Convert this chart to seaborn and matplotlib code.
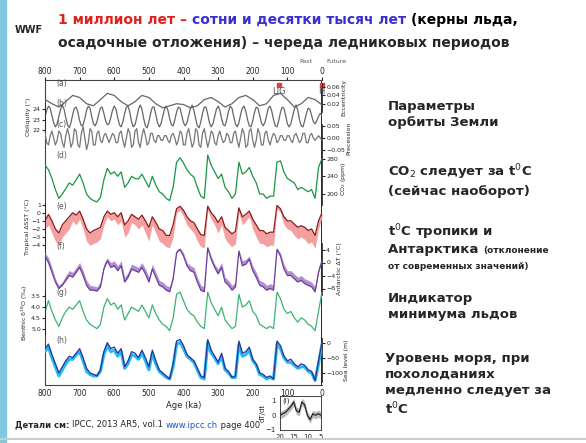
import numpy as np
import matplotlib
matplotlib.use("Agg")
import matplotlib.pyplot as plt
import seaborn as sns

sns.set_style("white")
plt.rcParams['font.family'] = ['DejaVu Sans']

W, H = 586, 443

# ---- data (ages from 800 ka to 0 ka) ----
ecc = [0.030, 0.020, 0.012, 0.025, 0.040, 0.035, 0.020, 0.015, 0.030, 0.045, 0.040,
       0.025, 0.015, 0.025, 0.040, 0.035, 0.020, 0.010, 0.015, 0.020, 0.018, 0.010,
       0.015, 0.030, 0.035, 0.025, 0.012, 0.020, 0.035, 0.040, 0.030, 0.015, 0.020,
       0.040, 0.045, 0.030, 0.012, 0.020, 0.035, 0.030, 0.017]
obliq = [23.3, 23.9, 24.3, 24.1, 23.4, 22.7, 22.3, 22.6, 23.3, 24.0, 24.4, 24.0, 23.2,
         22.5, 22.2, 22.7, 23.5, 24.1, 24.2, 23.7, 22.9, 22.4, 22.5, 23.1, 23.9, 24.3,
         24.1, 23.3, 22.6, 22.4, 22.8, 23.5, 24.1, 24.2, 23.6, 22.9, 22.5, 22.6, 23.2,
         23.9, 24.3, 24.0, 23.2, 22.5, 22.3, 22.8, 23.6, 24.2, 24.3, 23.7, 22.8, 22.3,
         22.5, 23.2, 24.0, 24.4, 24.0, 23.1, 22.4, 22.2, 22.8, 23.6, 24.2, 24.2, 23.5,
         22.7, 22.3, 22.6, 23.3, 24.0, 24.3, 23.9, 23.1, 22.5, 22.4, 23.0, 23.7, 24.2,
         24.1, 23.4, 22.7, 22.4, 22.7, 23.4, 24.1, 24.4, 23.9, 23.1, 22.4, 22.2, 22.8,
         23.6, 24.2, 24.2, 23.5, 22.7, 22.3, 22.6, 23.3, 24.0, 24.3, 23.9, 23.1, 22.5,
         22.4, 23.0, 23.8, 24.3, 24.1, 23.3, 22.6, 22.3, 22.7, 23.5, 24.1, 24.3, 23.8,
         23.0, 22.4, 22.3, 22.9, 23.7, 24.2, 24.1, 23.4, 22.7, 22.4, 22.7, 23.4, 24.1,
         24.3, 23.8, 23.0, 22.4, 22.3, 22.9, 23.7, 24.2, 24.1, 23.4, 22.6, 22.3, 22.6,
         23.3, 24.0, 24.4, 23.9, 23.0, 22.4, 22.3, 22.9, 23.6, 24.1, 24.0, 23.4, 22.8,
         22.6, 22.9, 23.3, 23.6, 23.4]
prec = [0.02, -0.02, -0.03, 0.01, 0.03, 0.00, -0.03, -0.01, 0.03, 0.02, -0.02, -0.04,
        0.01, 0.04, 0.01, -0.04, -0.02, 0.04, 0.03, -0.03, -0.04, 0.02, 0.05, 0.00,
        -0.05, -0.02, 0.04, 0.03, -0.03, -0.03, 0.02, 0.03, -0.01, -0.02, 0.01, 0.02,
        0.00, -0.02, 0.00, 0.02, 0.01, -0.02, -0.02, 0.02, 0.03, -0.01, -0.04, 0.00,
        0.04, 0.02, -0.04, -0.03, 0.03, 0.04, -0.02, -0.04, 0.01, 0.04, 0.01, -0.03,
        -0.02, 0.02, 0.02, -0.01, -0.02, 0.01, 0.01, -0.01, -0.01, 0.01, 0.01, -0.01,
        -0.02, 0.01, 0.02, 0.00, -0.03, -0.01, 0.03, 0.02, -0.03, -0.03, 0.02, 0.04,
        0.00, -0.04, -0.02, 0.04, 0.03, -0.03, -0.04, 0.02, 0.04, 0.00, -0.04, -0.01,
        0.03, 0.02, -0.02, -0.03, 0.01, 0.03, 0.00, -0.02, -0.01, 0.02, 0.01, -0.02,
        -0.02, 0.02, 0.03, -0.01, -0.04, 0.00, 0.04, 0.02, -0.04, -0.03, 0.03, 0.04,
        -0.01, -0.04, -0.01, 0.04, 0.02, -0.03, -0.03, 0.02, 0.03, -0.01, -0.03, 0.00,
        0.02, 0.01, -0.02, -0.01, 0.01, 0.01, -0.01, -0.01, 0.01, 0.01, -0.01, -0.02,
        0.01, 0.02, 0.00, -0.02, -0.01, 0.02, 0.02, -0.02, -0.02, 0.01, 0.02, 0.00,
        -0.01, 0.00, 0.01, 0.00, -0.01]
co2 = [265, 255, 235, 210, 190, 200, 212, 225, 220, 232, 245, 225, 200, 190, 185, 182,
       192, 232, 258, 245, 250, 240, 250, 215, 225, 240, 235, 234, 245, 230, 215, 240,
       220, 205, 200, 190, 185, 215, 272, 282, 270, 255, 245, 238, 215, 195, 190, 288,
       265, 250, 235, 245, 215, 205, 190, 200, 272, 245, 250, 260, 240, 225, 200, 200,
       190, 195, 195, 272, 275, 250, 235, 230, 225, 210, 215, 210, 205, 210, 190, 260, 280]
sst = [-1.0, -0.2, -1.0, -2.0, -2.5, -1.5, -1.0, -0.5, 0.0, -0.3, 0.2, -0.8, -2.0, -2.5,
       -2.2, -2.0, -1.8, -0.5, 0.2, -0.2, 0.0, -0.5, 0.0, -1.5, -1.0, -0.2, -0.5, -0.8,
       -0.3, -1.0, -1.8, -0.5, -1.2, -2.0, -2.2, -2.8, -2.8, -1.5, 0.5, 0.8, 0.3, -0.5,
       -1.0, -1.2, -2.0, -2.7, -2.8, 0.8, 0.0, -0.5, -1.2, -0.5, -1.8, -2.2, -2.6, -2.3,
       0.6, -0.5, -0.2, 0.2, -0.8, -1.5, -2.2, -2.2, -2.6, -2.4, -2.4, 0.9, 0.5, -0.5,
       -1.0, -1.0, -1.4, -1.8, -1.6, -1.8, -2.2, -2.0, -2.8, -1.0, 0.0]
sst_alt = [-2.0, -1.5, -2.5, -3.5, -4.0, -3.0, -2.5, -2.0, -1.0, -1.5, -0.8, -2.0, -3.5,
           -4.0, -3.8, -3.6, -3.2, -1.5, -0.5, -1.0, -0.8, -1.5, -1.0, -3.0, -2.5, -1.2,
           -1.5, -2.0, -1.5, -2.5, -3.5, -1.5, -2.5, -3.5, -3.8, -4.2, -4.3, -3.0, 0.0,
           0.3, -0.5, -1.5, -2.0, -2.5, -3.5, -4.2, -4.3, 0.3, -0.8, -1.5, -2.5, -1.5,
           -3.2, -3.8, -4.2, -3.8, 0.0, -1.5, -1.0, -0.5, -2.0, -3.0, -3.8, -3.8, -4.2,
           -4.0, -4.0, 0.5, 0.0, -1.5, -2.0, -2.2, -2.8, -3.2, -3.0, -3.3, -3.8, -3.6,
           -4.4, -2.0, -0.5]
ant = [2.0, 0.0, -3.0, -6.0, -8.0, -7.0, -5.5, -4.0, -4.5, -3.0, -1.5, -4.0, -7.0, -8.5,
       -8.5, -8.8, -7.5, -2.0, 0.5, -1.5, -1.0, -2.5, -1.0, -6.0, -4.5, -2.0, -2.5, -3.0,
       -1.5, -3.5, -6.0, -2.0, -4.5, -7.0, -7.5, -8.5, -9.0, -5.0, 3.0, 4.0, 2.0, -1.0,
       -2.5, -3.0, -6.0, -8.5, -9.0, 4.5, 1.0, -1.5, -3.5, -1.5, -6.0, -7.0, -8.5, -7.5,
       3.5, -1.0, -0.5, 1.0, -2.5, -4.5, -7.0, -7.5, -8.5, -8.0, -8.5, 4.0, 2.0, -2.0,
       -4.0, -4.0, -5.0, -6.0, -5.5, -6.5, -7.0, -7.5, -9.0, -3.0, 0.5]
ant_alt = [3.0, 1.5, -1.5, -5.0, -7.0, -6.0, -4.0, -2.5, -3.0, -1.5, 0.0, -2.5, -5.5, -7.0,
           -7.2, -7.5, -6.0, -0.5, 1.5, 0.0, 0.5, -1.0, 0.5, -4.5, -3.0, -0.5, -1.0, -1.5,
           0.0, -2.0, -4.5, -0.5, -3.0, -5.5, -6.0, -7.0, -7.5, -3.5, 4.0, 4.5, 3.0, 0.0,
           -1.0, -1.5, -4.5, -7.0, -7.5, 5.0, 2.0, -0.5, -2.0, 0.0, -4.5, -5.5, -7.0, -6.0,
           4.0, 0.5, 1.0, 2.0, -1.0, -3.0, -5.5, -6.0, -7.0, -6.5, -7.0, 4.5, 3.0, -0.5,
           -2.5, -2.5, -3.5, -4.5, -4.0, -5.0, -5.5, -6.0, -7.5, -1.5, 1.5]
d18o = [4.2, 3.7, 4.2, 4.6, 4.9, 4.5, 4.2, 4.0, 4.1, 3.9, 3.7, 4.2, 4.6, 4.8, 4.9, 5.0,
        4.8, 4.0, 3.6, 3.9, 3.8, 4.1, 3.9, 4.6, 4.3, 4.0, 4.1, 4.2, 3.9, 4.2, 4.5, 3.9,
        4.3, 4.6, 4.8, 4.9, 5.1, 4.5, 3.4, 3.3, 3.7, 4.1, 4.3, 4.4, 4.7, 4.9, 5.0, 3.3,
        3.8, 4.1, 4.4, 4.0, 4.6, 4.8, 5.0, 4.9, 3.4, 4.0, 3.9, 3.7, 4.2, 4.4, 4.8, 4.9,
        5.0, 4.9, 5.0, 3.3, 3.6, 4.1, 4.3, 4.2, 4.5, 4.7, 4.5, 4.6, 4.8, 4.9, 5.1, 4.2, 3.3]
sea = [-20, -5, -40, -70, -100, -80, -60, -45, -50, -35, -20, -50, -85, -100, -105,
       -110, -90, -30, 0, -20, -15, -35, -20, -80, -60, -30, -35, -50, -25, -50, -80,
       -25, -60, -90, -100, -110, -120, -70, 5, 10, -10, -40, -50, -60, -85, -110, -115,
       10, -25, -45, -65, -35, -85, -95, -115, -110, 5, -35, -30, -15, -55, -70, -100,
       -105, -115, -110, -120, 5, -10, -45, -60, -55, -70, -80, -70, -75, -90, -95,
       -125, -60, 0]
sea_alt = [-30, -15, -50, -80, -110, -90, -70, -55, -55, -40, -30, -60, -95, -105, -110,
           -110, -95, -40, -10, -30, -25, -45, -30, -85, -70, -40, -45, -55, -35, -60,
           -90, -35, -70, -95, -105, -115, -120, -80, -5, 0, -20, -45, -55, -65, -90,
           -115, -120, 0, -35, -50, -70, -45, -90, -100, -115, -115, -5, -45, -40, -25,
           -60, -75, -105, -110, -120, -115, -120, -5, -20, -50, -65, -65, -75, -85, -80,
           -80, -95, -100, -125, -70, -5]
inset_age = [20, 19, 18, 17, 16, 15, 14, 13, 12, 11, 10, 9, 8, 7, 6, 5]
inset_val = [0.0, 0.1, 0.2, 0.4, 0.6, 0.9, 0.3, 0.2, 0.9, 0.7, 0.0, -0.3, 0.1, 0.0, 0.1, 0.0]

age_ticks = [800, 700, 600, 500, 400, 300, 200, 100, 0]


def px(x0, y0, x1, y1):
    # pixel box (top-left origin) -> figure fraction rect
    return [x0 / W, 1 - y1 / H, (x1 - x0) / W, (y1 - y0) / H]


fig = plt.figure(figsize=(W / 100, H / 100), dpi=100)
fig.patch.set_facecolor('white')
renderer = fig.canvas.get_renderer()


def chain(parts, x, y, **kw):
    # write text pieces one after another on the same baseline
    for s, style in parts:
        t = fig.text(x / W, 1 - y / H, s, va='center', **kw, **style)
        x = t.get_window_extent(renderer).x1


# left accent bar and bottom rule
fig.patches.append(plt.Rectangle((0, 0), 6 / W, 1, transform=fig.transFigure,
                                 color='#7ec8e3', zorder=0))
fig.lines.append(plt.Line2D([0, 1], [1 - 439 / H] * 2, transform=fig.transFigure,
                            color='#cccccc', lw=1.5))

L, R, T, B = 45, 322, 80, 385
frame = fig.add_axes(px(L, T, R, B))
frame.set_xlim(800, 0)
frame.set_ylim(0, 1)
frame.set_yticks([])
frame.set_xticks(age_ticks)
frame.tick_params(axis='x', labelsize=5.5, top=True, labeltop=True, length=2, pad=1)
frame.set_xlabel('Age (ka)', fontsize=6, labelpad=2)
for s in frame.spines.values():
    s.set_color('#444444')
    s.set_linewidth(0.8)
frame.spines['right'].set_visible(False)
frame.axvline(0, color='black', lw=1.2)
frame.plot([125], [0.985], 's', color='#e8383d', ms=3.5, clip_on=False)
frame.plot([0], [0.985], 's', color='#e8383d', ms=3.5, clip_on=False)
frame.text(123, 0.955, 'LIG', fontsize=6, ha='center', color='#555')
frame.text(3, 0.955, 'H', fontsize=6, ha='center', color='#555')
fig.text(312 / W, 1 - 63 / H, 'Past', fontsize=4.5, ha='right', color='#555')
fig.text(326 / W, 1 - 63 / H, 'Future', fontsize=4.5, ha='left', color='#555')


def panel(box, xs, ys, color, lw=0.9, ylim=None, side=None, ticks=None, label=None,
          tag=None, invert=False):
    ax = fig.add_axes(px(*box))
    ax.patch.set_alpha(0)
    sns.lineplot(x=xs, y=ys, ax=ax, color=color, lw=lw)
    ax.set_xlim(800, 0)
    if ylim:
        ax.set_ylim(*ylim)
    if invert:
        ax.invert_yaxis()
    for s in ax.spines.values():
        s.set_visible(False)
    ax.set_xticks([])
    ax.set_xlabel('')
    if side:
        ax.spines[side].set_visible(True)
        ax.spines[side].set_linewidth(0.6)
        ax.yaxis.set_ticks_position(side)
        ax.yaxis.set_label_position(side)
        ax.set_yticks(ticks)
        ax.tick_params(axis='y', labelsize=4.5, length=2, pad=1)
        ax.set_ylabel(label, fontsize=4.5, labelpad=1)
        if side == 'right':
            ax.spines[side].set_position(('data', 0))
    else:
        ax.set_yticks([])
        ax.set_ylabel('')
    if tag:
        ax.text(0.04, 0.88, tag, transform=ax.transAxes, fontsize=5.5, color='#555')
    return ax


ages81 = np.linspace(800, 0, len(co2))
ax = panel((L, 83, R, 112), np.linspace(800, 0, len(ecc)), ecc, '#666', ylim=(0, 0.07),
           side='right', ticks=[0.02, 0.04, 0.06], label='Eccentricity', tag='(a)')
ax = panel((L, 103, R, 130), np.linspace(800, 0, len(obliq)), obliq, '#666',
           ylim=(22, 24.6), side='left', ticks=[22, 23, 24], label='Obliquity (°)', tag='(b)')
ax = panel((L, 124, R, 152), np.linspace(800, 0, len(prec)), prec, '#777',
           ylim=(-0.06, 0.06), side='right', ticks=[-0.05, 0, 0.05], label='Precession',
           tag='(c)')
ax = panel((L, 152, R, 205), ages81, co2, '#1a9641', ylim=(175, 295), side='right',
           ticks=[200, 240, 280], label='CO$_2$ (ppm)', tag='(d)')
ax = panel((L, 203, R, 250), ages81, sst, '#8b1a1a', ylim=(-4.6, 1.2), side='left',
           ticks=[-4, -3, -2, -1, 0, 1], label='Tropical ΔSST (°C)', tag='(e)')
ax.fill_between(ages81, sst, sst_alt, color='#f4a0a0', lw=0, zorder=0)
ax = panel((L, 243, R, 295), ages81, ant, '#6a3d9a', ylim=(-10, 6), side='right',
           ticks=[-8, -4, 0, 4], label='Antarctic ΔT (°C)', tag='(f)')
ax.fill_between(ages81, ant, ant_alt, color='#b48fd0', lw=0, zorder=0)
ax = panel((L, 290, R, 335), ages81, d18o, '#3cb371', ylim=(3.2, 5.3), side='left',
           ticks=[3.5, 4, 4.5, 5], label='Benthic δ$^{18}$O (‰)', tag='(g)', invert=True)
ax = panel((L, 338, R, 382), ages81, sea_alt, '#29b6f6', lw=2.2, ylim=(-130, 15),
           side='right', ticks=[-100, -50, 0], label='Sea level (m)', tag='(h)')
sns.lineplot(x=ages81, y=sea, ax=ax, color='#283593', lw=0.9)
ax.set_xlabel('')
ax.set_ylabel('Sea level (m)', fontsize=4.5, labelpad=1)

# inset (i)
ins = fig.add_axes(px(280, 396, 321, 430))
sns.lineplot(x=inset_age, y=inset_val, ax=ins, color='#222', lw=0.9)
ins.fill_between(inset_age, np.array(inset_val) - 0.25, np.array(inset_val) + 0.25,
                 color='#bbbbbb', lw=0)
ins.set_xlim(20, 5)
ins.set_ylim(-1, 1.3)
ins.set_xticks([20, 15, 10, 5])
ins.set_yticks([-1, 0, 1])
ins.tick_params(labelsize=5, length=2, pad=1)
ins.set_ylabel('dT/dt', fontsize=5, labelpad=0)
ins.text(0.05, 0.8, '(i)', transform=ins.transAxes, fontsize=5)
for s in ins.spines.values():
    s.set_linewidth(0.6)

# ---- slide texts ----
fig.text(15 / W, 1 - 30 / H, 'WWF', fontsize=7, weight='bold', va='center')
chain([('1 миллион лет – ', dict(color='#e0201c')),
       ('сотни и десятки тысяч лет ', dict(color='#3a2fd0')),
       ('(керны льда,', dict(color='black'))], 58, 20, fontsize=10, weight='bold')
fig.text(58 / W, 1 - 43 / H, 'осадочные отложения) – череда ледниковых периодов',
         fontsize=10, weight='bold', va='center')

kw = dict(fontsize=9.5, weight='bold', va='top', linespacing=1.3)
fig.text(388 / W, 1 - 100 / H, 'Параметры\nорбиты Земли', **kw)
fig.text(388 / W, 1 - 162 / H, 'CO$_2$ следует за t$^0$C\n(сейчас наоборот)', **kw)
fig.text(388 / W, 1 - 222 / H, 't$^0$C тропики и', **kw)
chain([('Антарктика ', dict(fontsize=9.5)), ('(отклонение', dict(fontsize=6.5))],
      388, 250, weight='bold')
fig.text(388 / W, 1 - 262 / H, 'от современных значений)', fontsize=6.5, weight='bold',
         va='top')
fig.text(388 / W, 1 - 292 / H, 'Индикатор\nминимума льдов', **kw)
fig.text(385 / W, 1 - 352 / H, 'Уровень моря, при\nпохолоданиях\nмедленно следует за\nt$^0$C',
         **kw)

chain([('Детали см: ', dict(weight='bold')), ('IPCC, 2013 AR5, vol.1 ', {}),
       ('www.ipcc.ch', dict(color='#1a55cc')), (' page 400', {})], 15, 425, fontsize=6)

fig.savefig('out.png', dpi=100)
